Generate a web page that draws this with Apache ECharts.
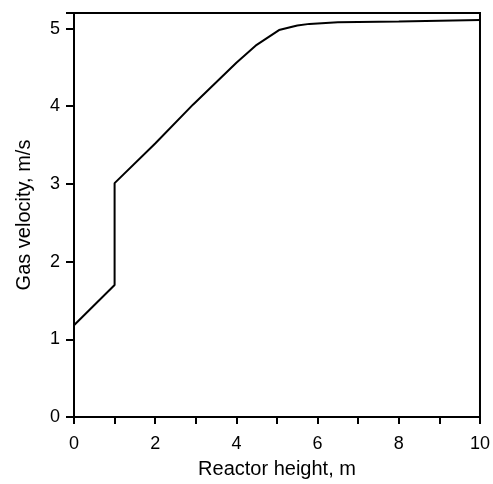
<!DOCTYPE html>
<html><head><meta charset="utf-8">
<script src="https://cdn.jsdelivr.net/npm/echarts@6/dist/echarts.min.js"></script>
<style>html,body{margin:0;padding:0;background:#fff}#c{width:493px;height:484px}</style>
</head><body><div id="c"></div>
<script>
const heights = [0, 1, 1, 2, 2.93, 4, 4.5, 5.05, 5.5, 5.8, 6.5, 8, 10];
const velocities = [1.18, 1.70, 3.01, 3.52, 4.02, 4.56, 4.79, 4.98, 5.04, 5.06, 5.08, 5.09, 5.11];
const xTicks = [0, 2, 4, 6, 8, 10];
const xName = 'Reactor height, m';
const yName = 'Gas velocity, m/s';

const chart = echarts.init(document.getElementById('c'));
const font = 'Liberation Sans, Arial, sans-serif';
chart.setOption({
  animation: false,
  grid: {left: 74, right: 12, top: 13, bottom: 64, show: true, borderColor: '#000', borderWidth: 2, backgroundColor: 'transparent'},
  xAxis: {
    type: 'value', min: 0, max: 10, interval: 1,
    name: xName, nameLocation: 'middle', nameGap: 42,
    nameTextStyle: {fontFamily: font, fontSize: 20, color: '#000'},
    axisLine: {show: true, lineStyle: {color: '#000', width: 2}},
    axisTick: {show: true, inside: false, length: 7, lineStyle: {color: '#000', width: 2}},
    axisLabel: {fontFamily: font, fontSize: 18, color: '#000', margin: 18,
      formatter: v => xTicks.includes(v) ? String(v) : ''},
    splitLine: {show: false}
  },
  yAxis: {
    type: 'value', min: 0, max: 5.2, interval: 1,
    name: yName, nameLocation: 'middle', nameGap: 40, nameRotate: 90,
    nameTextStyle: {fontFamily: font, fontSize: 20, color: '#000'},
    axisLine: {show: true, lineStyle: {color: '#000', width: 2}},
    axisTick: {show: true, inside: false, length: 8, lineStyle: {color: '#000', width: 2}},
    axisLabel: {fontFamily: font, fontSize: 18, color: '#000', margin: 14,
      formatter: v => Number.isInteger(v) ? String(v) : ''},
    splitLine: {show: false}
  },
  series: [{
    type: 'line', showSymbol: false,
    data: heights.map((h, i) => [h, velocities[i]]),
    lineStyle: {color: '#000', width: 2}
  }]
});
</script></body></html>
